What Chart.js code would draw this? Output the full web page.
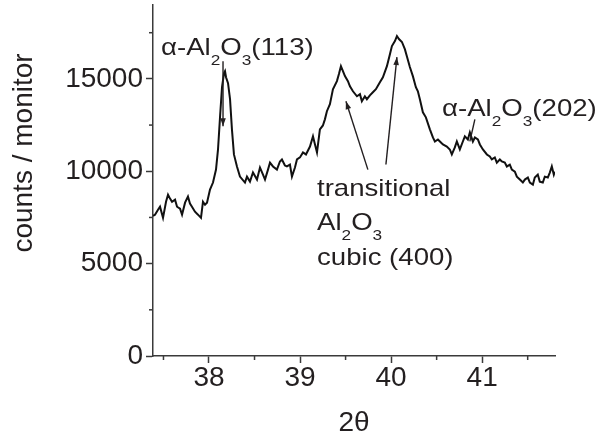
<!DOCTYPE html>
<html>
<head>
<meta charset="utf-8">
<title>counts / monitor vs 2θ</title>
<script src="https://cdn.jsdelivr.net/npm/chart.js"></script>
<style>
    html, body { margin: 0; padding: 0; background: #fff; }
    #wrap { width: 600px; height: 437px; }
</style>
</head>
<body>
<div id="wrap"><canvas id="xrd" width="600" height="437"></canvas></div>
<script>
    // values (2theta in degrees, counts / monitor)
    var twoTheta = [
        37.385, 37.407, 37.440, 37.462, 37.495, 37.528, 37.550, 37.572, 37.594, 37.627,
        37.649, 37.682, 37.704, 37.737, 37.769, 37.791, 37.813, 37.846, 37.879, 37.912,
        37.934, 37.956, 37.978, 38.011, 38.044, 38.077, 38.099, 38.121, 38.143, 38.165,
        38.176, 38.187, 38.209, 38.231, 38.252, 38.274, 38.307, 38.340, 38.395, 38.417,
        38.450, 38.483, 38.527, 38.560, 38.593, 38.615, 38.648, 38.670, 38.703, 38.746,
        38.779, 38.801, 38.834, 38.856, 38.889, 38.911, 38.944, 38.966, 38.999, 39.032,
        39.065, 39.109, 39.142, 39.164, 39.186, 39.218, 39.251, 39.273, 39.295, 39.328,
        39.361, 39.405, 39.427, 39.449, 39.471, 39.493, 39.526, 39.548, 39.581, 39.625,
        39.658, 39.679, 39.712, 39.734, 39.767, 39.800, 39.833, 39.877, 39.910, 39.954,
        39.987, 40.009, 40.042, 40.064, 40.086, 40.119, 40.151, 40.173, 40.206, 40.239,
        40.272, 40.294, 40.316, 40.349, 40.382, 40.426, 40.459, 40.481, 40.514, 40.536,
        40.569, 40.612, 40.645, 40.667, 40.700, 40.722, 40.755, 40.788, 40.810, 40.843,
        40.865, 40.898, 40.920, 40.953, 40.975, 41.008, 41.052, 41.084, 41.106, 41.139,
        41.161, 41.194, 41.216, 41.249, 41.271, 41.304, 41.326, 41.359, 41.381, 41.414,
        41.447, 41.469, 41.502, 41.524, 41.557, 41.578, 41.611, 41.633, 41.666, 41.688,
        41.721, 41.743, 41.765, 41.787, 41.798
    ];
    var counts = [
        7590, 7650, 7920, 8080, 7480, 8350, 8730, 8520, 8350, 8460,
        8080, 7970, 7650, 8300, 8630, 8250, 8080, 7810, 7650, 7480,
        8350, 8190, 8300, 9010, 9390, 10090, 11180, 12920, 14550, 15310,
        15420, 15090, 14770, 13900, 12270, 10910, 10260, 9710, 9390, 9710,
        9440, 9930, 9550, 10200, 9820, 9550, 10090, 10470, 10260, 10090,
        10530, 10640, 10310, 10260, 10360, 9710, 10200, 10640, 10750, 11020,
        10910, 11340, 11890, 11450, 11020, 12270, 12480, 12810, 13250, 13630,
        14440, 14880, 15260, 15690, 15420, 15150, 14880, 14600, 14330, 14060,
        14170, 13790, 14060, 13900, 14110, 14280, 14440, 14820, 15090, 15690,
        16340, 16780, 17050, 17320, 17160, 17000, 16610, 16230, 15640, 15150,
        14550, 14330, 13900, 13190, 12920, 12270, 11830, 11610, 11720, 11610,
        11450, 11340, 11180, 10910, 11290, 11610, 11180, 11610, 11890, 11720,
        12100, 11610, 11830, 11720, 11450, 11180, 10910, 10800, 10640, 10750,
        10470, 10640, 10530, 10470, 10260, 10360, 10090, 9980, 9710, 9550,
        9390, 9550, 9660, 9390, 9280, 9660, 9820, 9440, 9390, 9710,
        9660, 9930, 10260, 9820, 9980
    ];
    var xTicks = [38, 39, 40, 41];
    var xMinor = [37.5, 38.5, 39.5, 40.5, 41.5];
    var yTicks = [0, 5000, 10000, 15000];
    var yMinor = [2500, 7500, 12500, 17500];

    var ink = '#231f20';
    var axisInk = '#3a3a3a';
    var face = '"Liberation Sans", Arial, sans-serif';

    var points = [];
    for (var i = 0; i < twoTheta.length; i++) {
        points.push({ x: twoTheta[i], y: counts[i] });
    }

    // label with chemical subscripts, drawn as text
    function chemLabel(ctx, x, y, parts) {
        ctx.save();
        ctx.translate(x, y);
        ctx.scale(1.15, 1);
        ctx.fillStyle = ink;
        ctx.textAlign = 'left';
        ctx.textBaseline = 'alphabetic';
        var cx = 0;
        parts.forEach(function (p) {
            var sub = typeof p !== 'string';
            var t = sub ? p.sub : p;
            ctx.font = (sub ? '15px ' : '24px ') + face;
            ctx.fillText(t, cx, sub ? 10 : 0);
            cx += ctx.measureText(t).width;
        });
        ctx.restore();
    }

    function arrow(ctx, x1, y1, x2, y2, head) {
        ctx.beginPath();
        ctx.moveTo(x1, y1);
        ctx.lineTo(x2, y2);
        ctx.stroke();
        if (!head) return;
        var a = Math.atan2(y2 - y1, x2 - x1);
        ctx.beginPath();
        ctx.moveTo(x2, y2);
        ctx.lineTo(x2 - 8 * Math.cos(a) + 2.8 * Math.sin(a), y2 - 8 * Math.sin(a) - 2.8 * Math.cos(a));
        ctx.lineTo(x2 - 8 * Math.cos(a) - 2.8 * Math.sin(a), y2 - 8 * Math.sin(a) + 2.8 * Math.cos(a));
        ctx.closePath();
        ctx.fill();
    }

    var decorations = {
        id: 'decorations',
        afterDraw: function (chart) {
            var ctx = chart.ctx;
            var xs = chart.scales.x, ys = chart.scales.y;
            var area = chart.chartArea;
            ctx.save();

            // minor ticks
            ctx.strokeStyle = axisInk;
            ctx.lineWidth = 1.5;
            xMinor.forEach(function (v) {
                var px = xs.getPixelForValue(v);
                ctx.beginPath();
                ctx.moveTo(px, area.bottom);
                ctx.lineTo(px, area.bottom + 4);
                ctx.stroke();
            });
            yMinor.forEach(function (v) {
                var py = ys.getPixelForValue(v);
                ctx.beginPath();
                ctx.moveTo(area.left, py);
                ctx.lineTo(area.left - 4, py);
                ctx.stroke();
            });

            // y axis title
            ctx.save();
            ctx.translate(24, 153);
            ctx.rotate(-Math.PI / 2);
            ctx.font = '28px ' + face;
            ctx.fillStyle = ink;
            ctx.textAlign = 'center';
            ctx.textBaseline = 'middle';
            ctx.fillText('counts / monitor', 0, 0);
            ctx.restore();

            // peak labels and arrows
            ctx.strokeStyle = ink;
            ctx.fillStyle = ink;
            ctx.lineWidth = 1.4;
            function P(x, y) { return [xs.getPixelForValue(x), ys.getPixelForValue(y)]; }

            var a = P(38.154, 15960), b = P(38.154, 12430);
            arrow(ctx, a[0], a[1], b[0], b[1], true);
            a = P(39.745, 10090); b = P(39.504, 13790);
            arrow(ctx, a[0], a[1], b[0], b[1], true);
            a = P(39.943, 10365); b = P(40.064, 16180);
            arrow(ctx, a[0], a[1], b[0], b[1], true);
            a = P(40.92, 12810); b = P(40.865, 11620);
            arrow(ctx, a[0], a[1], b[0], b[1], false);

            chemLabel(ctx, 161, 55, ['\u03b1-Al', { sub: '2' }, 'O', { sub: '3' }, '(113)']);
            chemLabel(ctx, 442, 116, ['\u03b1-Al', { sub: '2' }, 'O', { sub: '3' }, '(202)']);
            chemLabel(ctx, 317, 196, ['transitional']);
            chemLabel(ctx, 317, 230, ['Al', { sub: '2' }, 'O', { sub: '3' }]);
            chemLabel(ctx, 317, 265, ['cubic (400)']);

            ctx.restore();
        }
    };

    var chart = new Chart(document.getElementById('xrd').getContext('2d'), {
        type: 'scatter',
        data: {
            datasets: [{
                data: points,
                showLine: true,
                borderColor: '#111',
                borderWidth: 2,
                pointRadius: 0,
                tension: 0
            }]
        },
        options: {
            responsive: false,
            animation: false,
            devicePixelRatio: 1,
            layout: { padding: { left: 0, right: 45, top: 5, bottom: 0 } },
            plugins: { legend: { display: false }, tooltip: { enabled: false } },
            scales: {
                x: {
                    type: 'linear',
                    min: 37.385,
                    max: 41.8,
                    afterBuildTicks: function (s) {
                        s.ticks = xTicks.map(function (v) { return { value: v }; });
                    },
                    afterFit: function (s) {
                        s.height = 81;
                        s.paddingLeft = 0;
                        s.paddingRight = 0;
                    },
                    ticks: {
                        color: ink,
                        font: { family: face, size: 28, lineHeight: 1 },
                        padding: 1,
                        maxRotation: 0,
                        callback: function (v) { return String(v); }
                    },
                    grid: { drawOnChartArea: false, tickLength: 7, tickColor: axisInk, tickWidth: 1.5 },
                    border: { display: true, color: axisInk, width: 1.5 },
                    title: {
                        display: true,
                        text: '2\u03b8',
                        color: ink,
                        font: { family: face, size: 28, lineHeight: 1 },
                        padding: 0
                    }
                },
                y: {
                    type: 'linear',
                    min: 0,
                    max: 19000,
                    afterBuildTicks: function (s) {
                        s.ticks = yTicks.map(function (v) { return { value: v }; });
                    },
                    afterFit: function (s) {
                        s.width = 153;
                        s.paddingTop = 0;
                        s.paddingBottom = 0;
                    },
                    ticks: {
                        color: ink,
                        font: { family: face, size: 28, lineHeight: 1 },
                        padding: 3,
                        callback: function (v) { return String(v); }
                    },
                    grid: { drawOnChartArea: false, tickLength: 7, tickColor: axisInk, tickWidth: 1.5 },
                    border: { display: true, color: axisInk, width: 1.5 }
                }
            }
        },
        plugins: [decorations]
    });
</script>
</body>
</html>
